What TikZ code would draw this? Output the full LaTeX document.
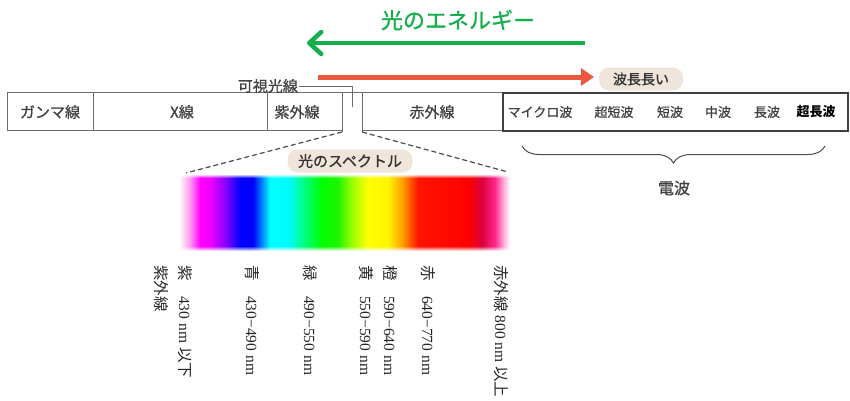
\documentclass[tikz,border=0pt]{standalone}
\usepackage{fontspec}
\setmainfont{Liberation Serif}
\newfontfamily\jp{Noto Sans CJK JP}
\newfontfamily\jpm[FakeBold=0.9]{Noto Sans CJK JP}
\usetikzlibrary{arrows.meta,decorations.pathreplacing,fadings}
\definecolor{egreen}{RGB}{20,175,75}
\definecolor{ered}{RGB}{236,88,62}
\definecolor{beige}{RGB}{240,229,218}
\definecolor{boxgray}{RGB}{110,110,110}
\pgfdeclarehorizontalshading{spectrum}{100bp}{%
rgb(0bp)=(1,1,1);
rgb(25bp)=(1,0.96,0.98);
rgb(26.52bp)=(1,0.6,0.94);
rgb(28.03bp)=(1,0,1);
rgb(29.55bp)=(0.94,0,1);
rgb(31.82bp)=(0.55,0,1);
rgb(34.09bp)=(0,0,1);
rgb(36.06bp)=(0,0,0.98);
rgb(38.64bp)=(0,1,1);
rgb(41.36bp)=(0,0.98,1);
rgb(43.94bp)=(0,1,0.47);
rgb(46.52bp)=(0,1,0);
rgb(48.94bp)=(0.12,0.96,0);
rgb(51.06bp)=(0.6,1,0);
rgb(53.48bp)=(1,1,0);
rgb(56.52bp)=(1,0.96,0);
rgb(58.64bp)=(1,0.63,0);
rgb(61.06bp)=(1,0.08,0);
rgb(68.64bp)=(1,0,0);
rgb(70.76bp)=(0.86,0,0.24);
rgb(72.73bp)=(1,0.16,0.55);
rgb(74.09bp)=(1,0.7,0.86);
rgb(75bp)=(1,1,1);
rgb(100bp)=(1,1,1)}
\begin{document}
\begin{tikzpicture}[x=1pt,y=-1pt,
  boxline/.style={draw=boxgray, line width=0.8pt},
  radioline/.style={draw=black!75, line width=1.4pt},
  boxtxt/.style={font=\jpm\fontsize{15}{15}\selectfont, text=black!75, inner sep=1pt},
  radiotxt/.style={font=\jpm\fontsize{13}{13}\selectfont, text=black!75, inner sep=1pt},
  pill/.style={fill=beige, rounded corners=10pt, minimum height=23pt, inner xsep=9pt, font=\jpm\fontsize{15}{15}\selectfont, text=black!80},
  dashline/.style={draw=black!70, line width=1.2pt, dash pattern=on 5pt off 3pt},
  vlabel/.style={rotate=-90, anchor=west, inner sep=0pt, font=\fontsize{15.5}{15.5}\selectfont, text=black!85}
]
\useasboundingbox (0,0) rectangle (850,400);

% title and energy arrow
\node[font=\jpm\fontsize{22}{22}\selectfont, text=egreen] (title) at (458,20) {光のエネルギー};
\coordinate (gS) at (585,43);
\coordinate (gE) at (307,43);
\draw[egreen, line width=4.5pt, -{Straight Barb[length=12pt,width=22pt,round]}] (gS) -- (gE);

% wavelength arrow
\coordinate (rS) at (318,77);
\coordinate (rE) at (594,77);
\draw[ered, line width=5pt, -{Triangle[length=13pt,width=17pt]}] (rS) -- (rE);
\node[pill, minimum width=84pt, font=\jpm\fontsize{14}{14}\selectfont] (long) at (641,79) {波長長い};

% main band box
\coordinate (b1) at (7,92);
\coordinate (b2) at (502,92);
\coordinate (b3) at (502,130);
\coordinate (b4) at (362,130);
\coordinate (b5) at (362,132);
\coordinate (b6) at (342,132);
\coordinate (b7) at (342,130);
\coordinate (b8) at (7,130);
\draw[boxline] (b5) -- (362,92);
\draw[boxline] (b6) -- (342,92);
\draw[boxline] (b8) -- (b1) -- (b2) -- (b3) -- (b4);
\draw[boxline] (b7) -- (b8);
\draw[boxline] (93,92) -- (93,130);
\draw[boxline] (267,92) -- (267,130);

\node[boxtxt] (gam) at (50,112) {ガンマ線};
\node[boxtxt] (xr) at (182,112) {X線};
\node[boxtxt] (uv) at (297,112) {紫外線};
\node[boxtxt] (ir) at (432,112) {赤外線};

% visible light leader
\node[boxtxt, anchor=east] (vis) at (299,86) {可視光線};
\coordinate (lend) at (352,107);
\draw[boxgray, line width=0.8pt] (vis.east) -| (lend);

% radio box
\coordinate (r1) at (503,93);
\coordinate (r2) at (848,131);
\draw[radioline] (r1) rectangle (r2);
\node[radiotxt] (mw) at (540,112) {マイクロ波};
\node[radiotxt] (vhf) at (614,112) {超短波};
\node[radiotxt] (sw) at (670,112) {短波};
\node[radiotxt] (mwv) at (718,112) {中波};
\node[radiotxt] (lw) at (767,112) {長波};
\node[radiotxt, text=black, font=\jp\bfseries\fontsize{13}{13}\selectfont] (vlf) at (816,112) {超長波};

% brace and label
\coordinate (brL) at (522,146);
\coordinate (brR) at (825,146);
\draw[black!70, line width=1pt, decorate, decoration={brace, mirror, amplitude=17pt}] (brL) -- (brR);
\node[font=\jpm\fontsize{16}{16}\selectfont, text=black!75] (radio) at (674,188) {電波};

% spectrum
\coordinate (sTL) at (180,175);
\coordinate (sBR) at (510,250);
\shade[shading=spectrum] (sTL) rectangle (sBR);
\fill[white, path fading=south] (180,174) rectangle (510,178);
\fill[white, path fading=north] (180,246) rectangle (510,251);

% dashed zoom lines
\coordinate (dL) at (186,173);
\coordinate (dR) at (508,172);
\draw[dashline] (b6) -- (dL);
\draw[dashline] (b5) -- (dR);
\node[pill, minimum width=125pt] (spec) at (350,161) {光のスペクトル};

% vertical labels
\node[vlabel] (l0) at (161,265) {\jp 紫外線};
\node[vlabel] (l1) at (185,265) {{\jp 紫}\quad 430 nm {\jp 以下}};
\node[vlabel] (l2) at (252,265) {{\jp 青}\quad 430−490 nm};
\node[vlabel] (l3) at (310,265) {{\jp 緑}\quad 490−550 nm};
\node[vlabel] (l4) at (366,265) {{\jp 黄}\quad 550−590 nm};
\node[vlabel] (l5) at (390,265) {{\jp 橙}\quad 590−640 nm};
\node[vlabel] (l6) at (428,265) {{\jp 赤}\quad 640−770 nm};
\node[vlabel] (l7) at (501,265) {{\jp 赤外線} 800 nm {\jp 以上}};
\end{tikzpicture}
\end{document}
